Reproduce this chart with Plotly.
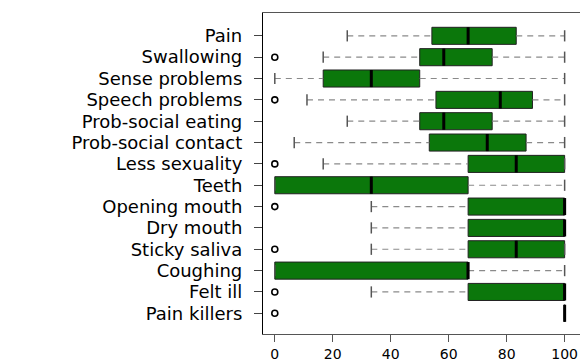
import plotly.graph_objects as go

# Categories listed top to bottom as in the chart
categories = ["Pain", "Swallowing", "Sense problems", "Speech problems",
              "Prob-social eating", "Prob-social contact", "Less sexuality",
              "Teeth", "Opening mouth", "Dry mouth", "Sticky saliva",
              "Coughing", "Felt ill", "Pain killers"]
lower_whisker = [25, 16.7, 0, 11.1, 25, 6.7, 16.7, 0, 33.3, 33.3, 33.3, 0, 33.3, 100]
q1_vals = [54.2, 50, 16.7, 55.6, 50, 53.3, 66.7, 0, 66.7, 66.7, 66.7, 0, 66.7, 100]
median_vals = [66.7, 58.3, 33.3, 77.8, 58.3, 73.3, 83.3, 33.3, 100, 100, 83.3, 66.7, 100, 100]
q3_vals = [83.3, 75, 50, 88.9, 75, 86.7, 100, 66.7, 100, 100, 100, 66.7, 100, 100]
upper_whisker = [100, 100, 100, 100, 100, 100, 100, 100, 100, 100, 100, 100, 100, 100]
outlier_cats = ["Swallowing", "Speech problems", "Less sexuality", "Opening mouth",
                "Sticky saliva", "Felt ill", "Pain killers"]
outlier_vals = [0, 0, 0, 0, 0, 0, 0]
x_ticks = [0, 20, 40, 60, 80, 100]

n = len(categories)
pos = {c: n - i for i, c in enumerate(categories)}  # Pain at top
ypos = [pos[c] for c in categories]
half = 0.4

fig = go.Figure()

# Whiskers (dashed grey)
wx, wy = [], []
for y, lw, a, b, uw in zip(ypos, lower_whisker, q1_vals, q3_vals, upper_whisker):
    if lw < a:
        wx += [lw, a, None]; wy += [y, y, None]
    if uw > b:
        wx += [b, uw, None]; wy += [y, y, None]
fig.add_trace(go.Scatter(x=wx, y=wy, mode="lines",
                         line=dict(color="#8a8a8a", width=1.2, dash="6px,5px"),
                         hoverinfo="skip", showlegend=False))

# Staples (caps)
cx, cy = [], []
for y, lw, uw in zip(ypos, lower_whisker, upper_whisker):
    cx += [lw, uw]; cy += [y, y]
fig.add_trace(go.Scatter(x=cx, y=cy, mode="markers",
                         marker=dict(symbol="line-ns", size=8,
                                     line=dict(color="#555555", width=1.5)),
                         hoverinfo="skip", showlegend=False))

# Boxes
fig.add_trace(go.Box(y=ypos, q1=q1_vals, median=median_vals, q3=q3_vals,
                     lowerfence=q1_vals, upperfence=q3_vals,
                     orientation="h", width=0.8, boxpoints=False,
                     fillcolor="#0b770b", line=dict(color="#222222", width=1),
                     whiskerwidth=0, showlegend=False))

# Medians (thick black)
mx, my = [], []
for y, m in zip(ypos, median_vals):
    mx += [m, m, None]; my += [y - half, y + half, None]
fig.add_trace(go.Scatter(x=mx, y=my, mode="lines",
                         line=dict(color="black", width=3),
                         hoverinfo="skip", showlegend=False))

# Outliers
fig.add_trace(go.Scatter(x=outlier_vals, y=[pos[c] for c in outlier_cats],
                         mode="markers",
                         marker=dict(symbol="circle-open", size=6,
                                     color="black", line=dict(width=1.6)),
                         hoverinfo="skip", showlegend=False))

fig.update_layout(
    width=580, height=361,
    margin=dict(l=263, r=0, t=13, b=27, autoexpand=False),
    paper_bgcolor="white", plot_bgcolor="white",
    showlegend=False,
    font=dict(family="DejaVu Sans", color="black"),
    xaxis=dict(range=[-4.07, 105.3], tickvals=x_ticks,
               ticktext=[str(v) for v in x_ticks],
               showgrid=False, zeroline=False, automargin=False,
               showline=True, linecolor="#555555", linewidth=1, mirror=True,
               ticks="outside", ticklen=7, tickcolor="#555555",
               ticklabeloverflow="allow",
               tickfont=dict(size=14, family="DejaVu Sans")),
    yaxis=dict(range=[0.03, 15.07], tickvals=ypos, ticktext=categories,
               showgrid=False, zeroline=False, automargin=False,
               showline=True, linecolor="black", linewidth=1.2, mirror=False,
               ticks="outside", ticklen=8, tickcolor="#444444",
               ticklabelstandoff=8,
               tickfont=dict(size=18, family="DejaVu Sans")),
)

fig.write_html("out.html")
